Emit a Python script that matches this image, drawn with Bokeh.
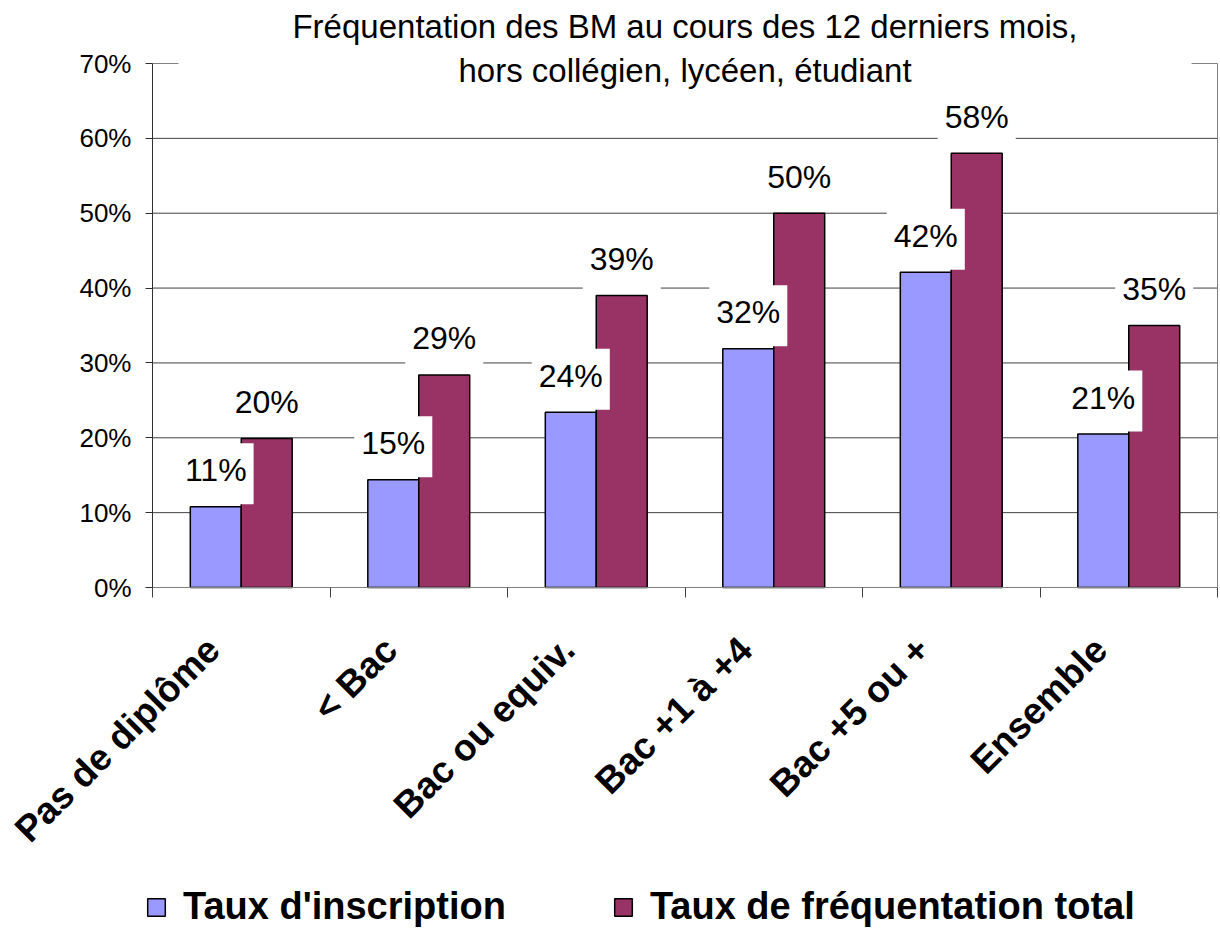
import math
from bokeh.plotting import figure
from bokeh.models import (Range1d, LinearAxis, FixedTicker, NumeralTickFormatter, Label, Legend,
                          LegendItem, ColumnDataSource)
from bokeh.transform import dodge
from bokeh.core.properties import value
from bokeh.embed import file_html
from bokeh.resources import INLINE

categories = ["Pas de diplôme", "< Bac", "Bac ou equiv.", "Bac +1 à +4", "Bac +5 ou +", "Ensemble"]
inscription = [0.108, 0.144, 0.234, 0.319, 0.421, 0.205]
frequentation = [0.199, 0.284, 0.390, 0.500, 0.580, 0.350]
inscription_labels = ["11%", "15%", "24%", "32%", "42%", "21%"]
frequentation_labels = ["20%", "29%", "39%", "50%", "58%", "35%"]
series_names = ["Taux d'inscription", "Taux de fréquentation total"]
y_ticks = [0, 0.1, 0.2, 0.3, 0.4, 0.5, 0.6, 0.7]
grid_ticks = [0.1, 0.2, 0.3, 0.4, 0.5, 0.6]
title_lines = ["Fréquentation des BM au cours des 12 derniers mois,",
               "hors collégien, lycéen, étudiant"]

BLUE = "#9999FF"
RED = "#993366"

n = len(categories)
centers = [i + 0.5 for i in range(n)]        # category slot centres
boundaries = list(range(n + 1))             # category slot edges
y_max = y_ticks[-1]

# layout: canvas 1220x928, plot area spans px 152..1217 horizontally, 63..587 vertically
W, H = 1220, 928
PL, PR, PT, PB = 152, 1217, 63, 587
sx = n / (PR - PL)          # slots per pixel
sy = y_max / (PB - PT)      # value per pixel

p = figure(width=W, height=H, min_border=0,
           x_range=Range1d(-PL * sx, n + (W - PR) * sx),
           y_range=Range1d(-(H - PB) * sy, y_max + PT * sy),
           output_backend="svg", toolbar_location=None,
           x_axis_location=None, y_axis_location=None)
p.center = []
p.outline_line_color = None
p.background_fill_color = "white"
p.border_fill_color = "white"

# horizontal gridlines limited to the plot area, and the grey top border of the plot area
p.segment(x0=0, x1=n, y0=grid_ticks, y1=grid_ticks, line_color="#404040", line_width=1)
p.segment(x0=0, x1=n, y0=y_max, y1=y_max, line_color="#808080", line_width=1)

yaxis = LinearAxis(fixed_location=0, bounds=(0, y_max),
                   ticker=FixedTicker(ticks=y_ticks), formatter=NumeralTickFormatter(format="0%"),
                   major_tick_out=7, major_tick_in=0, minor_tick_line_color=None,
                   axis_line_color="#303030", major_tick_line_color="#303030",
                   major_label_text_font="Liberation Sans", major_label_text_font_size="26px",
                   major_label_standoff=14, major_label_text_color="black")
p.add_layout(yaxis, "left")

right_axis = LinearAxis(fixed_location=n, bounds=(0, y_max), ticker=FixedTicker(ticks=[]),
                        axis_line_color="#808080", major_tick_line_color=None,
                        minor_tick_line_color=None)
p.add_layout(right_axis, "right")

tick_axis = LinearAxis(fixed_location=0, bounds=(0, n),
                       ticker=FixedTicker(ticks=[], minor_ticks=boundaries),
                       minor_tick_out=10, minor_tick_in=0, minor_tick_line_color="#404040",
                       major_tick_line_color=None, axis_line_color="#808080")
p.add_layout(tick_axis, "below")

src = ColumnDataSource(dict(pos=centers, cat=categories, ins=inscription, freq=frequentation,
                            ins_lbl=inscription_labels, freq_lbl=frequentation_labels))
bar_w = 0.287
r1 = p.vbar(x=dodge("pos", -bar_w / 2), top="ins", width=bar_w, source=src,
            fill_color=BLUE, line_color="black", line_width=1.5)
r2 = p.vbar(x=dodge("pos", bar_w / 2), top="freq", width=bar_w, source=src,
            fill_color=RED, line_color="black", line_width=1.5)

lbl_kw = dict(source=src, text_align="center", text_baseline="alphabetic", y_offset=-33,
              text_font=value("Liberation Sans"), text_font_size="32px", text_color="black",
              background_fill_color="white",
              padding=dict(left=7, right=7, top=9, bottom=16))
p.text(x=dodge("pos", -bar_w / 2), y="ins", text="ins_lbl", **lbl_kw)
p.text(x=dodge("pos", bar_w / 2), y="freq", text="freq_lbl", **lbl_kw)

# category labels, rotated 45 degrees under the axis
p.text(x="pos", y=0, text="cat", source=src, angle=math.pi / 4, text_align="right",
       text_baseline="alphabetic", x_offset=-28, y_offset=56,
       text_font=value("Liberation Sans"), text_font_style="bold", text_font_size="37px",
       text_color="black")

t1 = Label(x=n / 2, y=y_max, text=title_lines[0], text_align="center",
           text_baseline="alphabetic", y_offset=37, text_font="Liberation Sans",
           text_font_size="33px", text_color="black")
t2 = Label(x=n / 2, y=y_max, text=title_lines[1], text_align="center",
           text_baseline="alphabetic", y_offset=-7, text_font="Liberation Sans",
           text_font_size="33px", text_color="black", background_fill_color="white",
           padding=dict(left=280, right=280, top=0, bottom=0))
p.add_layout(t1)
p.add_layout(t2)

legend = Legend(items=[LegendItem(label=series_names[0], renderers=[r1]),
                       LegendItem(label=series_names[1], renderers=[r2])],
                orientation="horizontal", location=(145, 0),
                glyph_width=22, glyph_height=22, label_standoff=16, spacing=106,
                padding=0, margin=0, border_line_color=None, background_fill_alpha=0,
                label_text_font="Liberation Sans", label_text_font_style="bold",
                label_text_font_size="38px", label_text_color="black")
p.add_layout(legend, "center")

open("out.html", "w").write(file_html(p, INLINE))
